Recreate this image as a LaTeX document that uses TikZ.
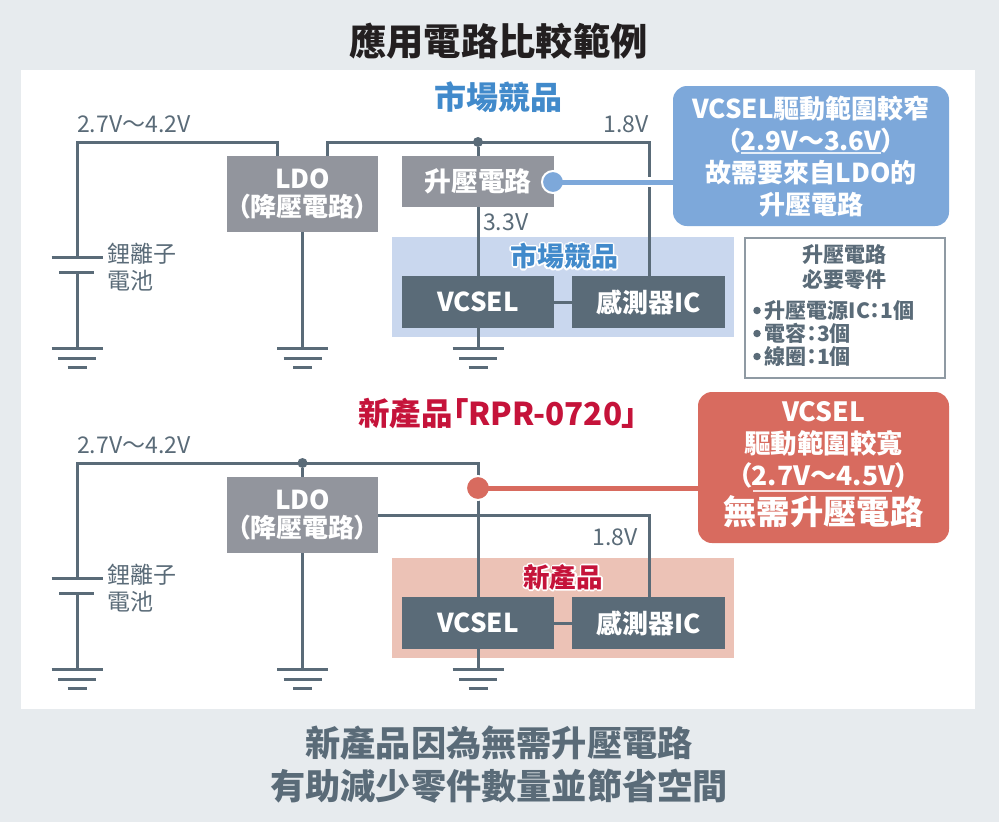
\documentclass[tikz,border=0pt]{standalone}
\usepackage{fontspec}
\setmainfont{Noto Sans CJK TC}[RawFeature={+palt}]
\newfontfamily\halofont{Noto Sans CJK TC Bold}[FakeBold=14,RawFeature={+palt}]
\definecolor{pagebg}{HTML}{E7EBEE}
\definecolor{wire}{HTML}{5A6B78}
\definecolor{ldogray}{HTML}{92959D}
\definecolor{bluecall}{HTML}{7DA8DA}
\definecolor{bluepanel}{HTML}{C9D7EE}
\definecolor{bluetext}{HTML}{418ACB}
\definecolor{redcall}{HTML}{D86B5F}
\definecolor{redpanel}{HTML}{ECC2B6}
\definecolor{redtext}{HTML}{C5133A}
\definecolor{titleink}{HTML}{231F20}
\definecolor{framegray}{HTML}{8F9AA3}
\newcommand{\fs}[1]{\fontsize{#1}{#1}\selectfont}
\newcommand{\fsl}[2]{\fontsize{#1}{#2}\selectfont}
\tikzset{
  wireline/.style={draw=wire,line width=3pt},
  gnd/.style={draw=wire,line width=3pt},
  graybox/.style={fill=ldogray,draw=none,inner sep=0pt,text=white,align=center},
  darkbox/.style={fill=wire,draw=none,inner sep=0pt,text=white,align=center,minimum height=52pt,font=\fs{26}\bfseries},
  volt/.style={inner sep=0pt,text=wire,font=\fs{23}},
  batt/.style={inner sep=0pt,text=wire,font=\fsl{23}{27},align=left},
  dot/.style={circle,fill=wire,draw=none,minimum size=10pt,inner sep=0pt},
  listdot/.style={circle,fill=wire,draw=none,minimum size=7.5pt,inner sep=0pt},
  callout/.style={rounded corners=14pt,inner sep=0pt,text=white,align=center},
}
\newcommand{\groundat}[1]{%
  \draw[gnd] ($(#1)+(-25.5,0)$) -- ($(#1)+(25.5,0)$);
  \draw[gnd] ($(#1)+(-19,10)$) -- ($(#1)+(19,10)$);
  \draw[gnd] ($(#1)+(-9.5,19.5)$) -- ($(#1)+(9.5,19.5)$);
}
\usetikzlibrary{calc}
\begin{document}
\begin{tikzpicture}[x=1pt,y=-1pt]
\useasboundingbox (0,0) rectangle (999,822);
\fill[pagebg] (0,0) rectangle (999,822);
\fill[white] (21,70) rectangle (975,709);

\node[inner sep=0pt,text=titleink,font=\fs{37.3}\bfseries] (title) at (498.5,41) {應用電路比較範例};

% ---------- upper circuit ----------
\node[inner sep=0pt,text=bluetext,font=\fs{32}\bfseries] (lbla) at (498,97) {市場競品};
\fill[bluepanel] (392,237) rectangle (734,337);

\node[graybox,minimum width=151pt,minimum height=76pt,font=\fsl{26}{28}\bfseries] (ldoa) at (302.5,194) {LDO\\（降壓電路）};
\node[graybox,minimum width=152pt,minimum height=51pt,font=\fs{26.8}\bfseries] (boost) at (478,181.5) {升壓電路};
\node[darkbox,minimum width=152pt] (vcsela) at (478,302) {VCSEL};
\node[darkbox,minimum width=153pt] (sensea) at (648.5,302) {感測器IC};

\coordinate (batttopa) at (77,257);
\coordinate (battbota) at (77,272);
\coordinate (corna1) at (77,142);
\coordinate (corna2) at (277,142);
\coordinate (corna3) at (327,142);
\coordinate (corna4) at (649,142);
\coordinate (gnda1) at (77,348);
\coordinate (gnda2) at (302.5,348);
\coordinate (gnda3) at (478,348);
\node[dot] (juna) at (478,142) {};

\draw[wireline] (batttopa) -- (corna1) -- (corna2) -- (corna2 |- ldoa.north);
\draw[wireline] (corna3 |- ldoa.north) -- (corna3) -- (corna4) -- (corna4 |- sensea.north);
\draw[wireline] (juna) -- (boost.north);
\draw[wireline] (boost.south) -- (vcsela.north);
\draw[wireline] (vcsela.east) -- (sensea.west);
\draw[wireline] (vcsela.south) -- (gnda3);
\draw[wireline] (ldoa.south) -- (gnda2);
\draw[wireline] (battbota) -- (gnda1);
\draw[gnd] ($(batttopa)+(-25.5,0)$) -- ($(batttopa)+(25.5,0)$);
\draw[gnd] ($(battbota)+(-18,0)$) -- ($(battbota)+(17,0)$);
\groundat{gnda1}\groundat{gnda2}\groundat{gnda3}

\node[volt,anchor=west] (va1) at (77,124) {2.7V～4.2V};
\node[volt,anchor=east] (va2) at (649,124) {1.8V};
\node[volt,anchor=west] (va3) at (483,222) {3.3V};
\node[batt,anchor=west] (batta) at (107,267) {鋰離子\\電池};

\begin{scope}[line join=round]
\node[inner sep=0pt,text=white,font=\fs{27}\halofont] (haloa) at (564,256) {市場競品};
\end{scope}
\node[inner sep=0pt,text=bluetext,font=\fs{27}\bfseries] (inpa) at (564,256) {市場競品};

% blue callout
\node[callout,fill=bluecall,minimum width=276pt,minimum height=140pt,font=\fsl{26}{32}\bfseries] (calla) at (811,156) {VCSEL驅動範圍較窄\\（2.9V～3.6V）\\故需要來自LDO的\\升壓電路};
\coordinate (ula1) at (741,153);
\coordinate (ula2) at (881,153);
\draw[white!80!bluecall,line width=1.5pt] (ula1) -- (ula2);
\node[circle,fill=bluecall,draw=white,line width=2pt,minimum size=22pt,inner sep=0pt] (pina) at (553,182) {};
\draw[white,line width=10pt] (pina.east) -- (pina.east -| calla.west);
\draw[bluecall,line width=5pt] (pina.center) -- (pina.center -| calla.west);

% parts list
\node[draw=framegray,line width=2pt,fill=white,minimum width=200pt,minimum height=140pt,inner sep=0pt] (parts) at (844.5,307.5) {};
\node[inner sep=0pt,text=wire,align=center,font=\fsl{21}{25}\bfseries] (partst) at (844,267.5) {升壓電路\\必要零件};
\node[inner sep=0pt,text=wire,align=left,anchor=west,font=\fsl{21}{23}\bfseries] (partsl) at (764.5,334) {升壓電源IC：1個\\電容：3個\\線圈：1個};
\node[listdot] (d1) at (757,310.5) {};
\node[listdot] (d2) at (757,333.5) {};
\node[listdot] (d3) at (757,356.5) {};

% ---------- lower circuit ----------
\node[inner sep=0pt,text=redtext,font=\fs{31.5}\bfseries] (lblb) at (498,414) {新產品「RPR-0720」};
\fill[redpanel] (392,558) rectangle (734,658);

\node[graybox,minimum width=151pt,minimum height=76pt,font=\fsl{26}{28}\bfseries] (ldob) at (302.5,515) {LDO\\（降壓電路）};
\node[darkbox,minimum width=152pt] (vcselb) at (478,623) {VCSEL};
\node[darkbox,minimum width=153pt] (senseb) at (648.5,623) {感測器IC};

\coordinate (batttopb) at (77,578);
\coordinate (battbotb) at (77,593);
\coordinate (cornb1) at (77,463);
\coordinate (cornb2) at (478,463);
\coordinate (cornb3) at (649,515);
\coordinate (gndb1) at (77,669);
\coordinate (gndb2) at (302.5,669);
\coordinate (gndb3) at (478,669);
\node[dot] (junb) at (302.5,463) {};

\draw[wireline] (batttopb) -- (cornb1) -- (cornb2) -- (vcselb.north);
\draw[wireline] (junb) -- (ldob.north);
\draw[wireline] (ldob.east) -- (cornb3) -- (cornb3 |- senseb.north);
\draw[wireline] (vcselb.east) -- (senseb.west);
\draw[wireline] (vcselb.south) -- (gndb3);
\draw[wireline] (ldob.south) -- (gndb2);
\draw[wireline] (battbotb) -- (gndb1);
\draw[gnd] ($(batttopb)+(-25.5,0)$) -- ($(batttopb)+(25.5,0)$);
\draw[gnd] ($(battbotb)+(-18,0)$) -- ($(battbotb)+(17,0)$);
\groundat{gndb1}\groundat{gndb2}\groundat{gndb3}

\node[volt,anchor=west] (vb1) at (77,445) {2.7V～4.2V};
\node[volt,anchor=east] (vb2) at (638,537) {1.8V};
\node[batt,anchor=west] (battb) at (107,588) {鋰離子\\電池};

\begin{scope}[line join=round]
\node[inner sep=0pt,text=white,font=\fs{26.5}\halofont] (halob) at (563,577) {新產品};
\end{scope}
\node[inner sep=0pt,text=redtext,font=\fs{26.5}\bfseries] (inpb) at (563,577) {新產品};

% red callout
\node[callout,fill=redcall,minimum width=251pt,minimum height=151pt] (callb) at (823.5,467.5) {};
\node[inner sep=0pt,text=white,align=center,font=\fsl{26.5}{32}\bfseries] (callbt) at (823.5,445) {VCSEL\\驅動範圍較寬\\（2.7V～4.5V）};
\node[inner sep=0pt,text=white,font=\fs{33.3}\bfseries] (callbb) at (823.5,512) {無需升壓電路};
\coordinate (ulb1) at (753,491);
\coordinate (ulb2) at (892,491);
\draw[white!80!redcall,line width=1.5pt] (ulb1) -- (ulb2);
\node[circle,fill=redcall,draw=white,line width=2pt,minimum size=24pt,inner sep=0pt] (pinb) at (478,488) {};
\draw[redcall,line width=5pt] (pinb.center) -- (pinb.center -| callb.west);

% closing text
\node[inner sep=0pt,text=wire,align=center,font=\fsl{35.2}{43}\bfseries] (closing) at (499,764.5) {新產品因為無需升壓電路\\有助減少零件數量並節省空間};
\end{tikzpicture}
\end{document}
